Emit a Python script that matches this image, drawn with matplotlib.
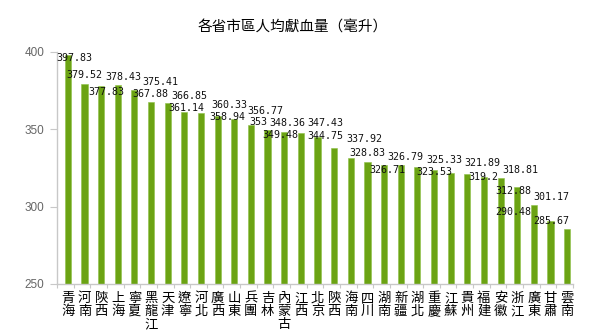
import matplotlib
matplotlib.use("Agg")
import matplotlib.pyplot as plt
import numpy as np

plt.rcParams['font.family'] = ['Noto Sans CJK TC', 'DejaVu Sans']

title = "各省市區人均獻血量（毫升）"
regions = ["青海", "河南", "陝西", "上海", "寧夏", "黑龍江", "天津", "遼寧", "河北", "廣西",
           "山東", "兵團", "吉林", "內蒙古", "江西", "北京", "陝西", "海南", "四川", "湖南",
           "新疆", "湖北", "重慶", "江蘇", "貴州", "福建", "安徽", "浙江", "廣東", "甘肅", "雲南"]
values = [397.83, 379.52, 377.83, 378.43, 375.41, 367.88, 366.85, 361.14, 360.33, 358.94,
          356.77, 353.00, 349.48, 348.36, 347.43, 344.75, 337.92, 331.20, 328.83, 326.79,
          326.71, 325.33, 323.53, 321.89, 321.30, 319.20, 318.81, 312.88, 301.17, 290.48, 285.67]
# which data labels are visible in the reference (two are hidden by overlap)
label_shown = [True] * 17 + [False] + [True] * 6 + [False] + [True] * 6
y_ticks = [250, 300, 350, 400]

# label placement offsets (pixels): horizontal shift, vertical centre relative to bar top (down +)
lab_dx = [6.5, 0, 5, 5.5, 26, -1, 21.5, 1.5, 28, 9.5, 31, 7, 13, 3.5, 24.5, 8, 30, 0, 0, 21,
          -13, 27, 0, 31.5, 0, -1, 19.5, -3.5, 17, -37, -16]
lab_dy = [2.7, -8.5, 5.4, -8.7, -8.4, -7.5, -7.6, -3.8, -8.6, 1.3, -7.6, -2.4, 5.2, -9, -10, -1.6,
          -9.1, -8, -8.6, -8.2, 5.1, -7.5, 2.2, -9.8, -8, 0.1, -8, 3.8, -7.7, -9.2, -8.1]

W, H = 595, 336
fig = plt.figure(figsize=(W / 100, H / 100), dpi=100)
ax = fig.add_axes([57 / W, 1 - 284 / H, (573 - 57) / W, (284 - 52) / H])

n = len(values)
idx = np.arange(n)
bar_x = idx + 0.15
ax.bar(bar_x, [v - 250 for v in values], bottom=250, width=0.37, color='#6ba313',
       edgecolor='#8dc046', linewidth=0.4, zorder=2)

ax.set_xlim(-0.5, n - 0.5)
ax.set_ylim(250, 400)

for s in ['top', 'right']:
    ax.spines[s].set_visible(False)
for s in ['left', 'bottom']:
    ax.spines[s].set_color('#c8c8c8')
    ax.spines[s].set_linewidth(1.0)

ax.set_yticks(y_ticks)
ax.set_yticklabels([str(t) for t in y_ticks], family='Liberation Sans', fontsize=8.5, color='#666666')
ax.tick_params(axis='y', length=5, color='#c8c8c8', pad=4)

ax.set_xticks(np.arange(-0.5, n, 1.0))
ax.set_xticklabels([])
ax.tick_params(axis='x', which='major', length=3, color='#c8c8c8')
ax.set_xticks(bar_x, minor=True)
ax.set_xticklabels(['\n'.join(r) for r in regions], minor=True, fontsize=9.6,
                   color='black', linespacing=0.92)
ax.tick_params(axis='x', which='minor', length=0, pad=5)

for i in range(n):
    if not label_shown[i]:
        continue
    v = values[i]
    txt = f"{v:g}" if v != int(v) else f"{int(v)}"
    ax.annotate(txt, (bar_x[i], v), xytext=(lab_dx[i], -lab_dy[i]), textcoords='offset pixels',
                ha='center', va='center', family='DejaVu Sans Mono', fontsize=7.2,
                color='#111111', zorder=3, annotation_clip=False)

fig.text(293 / W, 1 - 28 / H, title, ha='center', va='center', fontsize=10.5, color='black')

fig.savefig('out.png', dpi=100)
